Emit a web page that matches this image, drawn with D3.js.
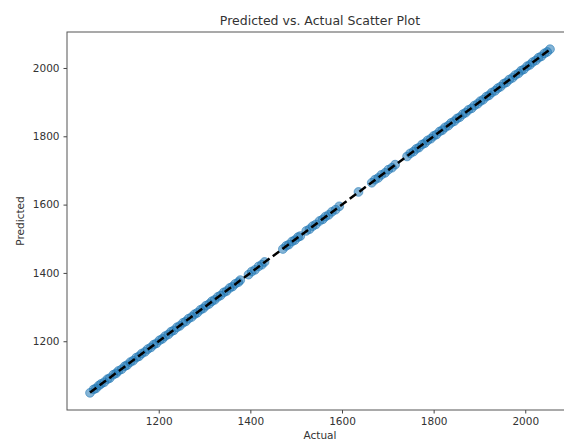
<!DOCTYPE html>
<html>
<head>
  <meta charset="utf-8">
  <script src="https://d3js.org/d3.v7.min.js"></script>
  <style>
    body { margin: 0; background: #fff; }
    svg text { font-family: "DejaVu Sans", sans-serif; fill: #333; }
  </style>
</head>
<body>
<script>
// actual values (x) and model predictions (y)
var actual = [
  1050, 1058, 1063, 1069, 1074, 1081, 1088, 1093, 1101, 1107, 1112, 1119, 1126, 1131, 1138, 1144,
  1151, 1157, 1163, 1170, 1176, 1183, 1189, 1195, 1202, 1208, 1214, 1221, 1227, 1233, 1240, 1246,
  1253, 1259, 1265, 1272, 1278, 1284, 1291, 1297, 1303, 1310, 1316, 1322, 1329, 1335, 1342, 1348,
  1355, 1361, 1367, 1374, 1378,
  1396, 1403, 1410, 1418, 1425, 1431,
  1471, 1478, 1484, 1491, 1497, 1504, 1509,
  1522, 1529, 1536, 1543, 1551, 1558, 1564, 1571, 1578, 1586, 1594,
  1636,
  1665, 1672, 1679, 1686, 1694, 1701, 1709, 1716,
  1742, 1749, 1756, 1762, 1768, 1775, 1781, 1787, 1794, 1800, 1806, 1813, 1819, 1825, 1832, 1838,
  1845, 1851, 1857, 1864, 1870, 1876, 1883, 1889, 1896, 1902, 1908, 1915, 1921, 1927, 1934, 1940,
  1946, 1953, 1959, 1965, 1972, 1978, 1985, 1991, 1997, 2004, 2010, 2016, 2023, 2029, 2035, 2042,
  2048, 2054
];
var predicted = [
  1049, 1059, 1062, 1070, 1075, 1080, 1089, 1092, 1102, 1106, 1113, 1118, 1127, 1130, 1139, 1143,
  1152, 1156, 1164, 1169, 1177, 1182, 1190, 1194, 1203, 1207, 1215, 1220, 1228, 1232, 1241, 1245,
  1254, 1258, 1266, 1271, 1279, 1283, 1292, 1296, 1304, 1309, 1317, 1321, 1330, 1334, 1343, 1347,
  1356, 1360, 1368, 1373, 1379,
  1395, 1404, 1409, 1419, 1424, 1432,
  1470, 1479, 1483, 1492, 1496, 1505, 1508,
  1523, 1528, 1537, 1542, 1552, 1557, 1565, 1570, 1579, 1585, 1595,
  1637,
  1664, 1673, 1678, 1687, 1693, 1702, 1708, 1717,
  1741, 1750, 1755, 1763, 1767, 1776, 1780, 1788, 1793, 1801, 1805, 1814, 1818, 1826, 1831, 1839,
  1844, 1852, 1856, 1865, 1869, 1877, 1882, 1890, 1895, 1903, 1907, 1916, 1920, 1928, 1933, 1941,
  1945, 1954, 1958, 1966, 1971, 1979, 1984, 1992, 1996, 2005, 2009, 2017, 2022, 2030, 2034, 2043,
  2047, 2055
];
var xTicks = [1200, 1400, 1600, 1800, 2000];
var yTicks = [1200, 1400, 1600, 1800, 2000];

var W = 564, H = 441;
var margin = { top: 32, right: -9, bottom: 31, left: 67 };
var width = W - margin.left - margin.right,
    height = H - margin.top - margin.bottom;

// matplotlib-style 5% padding around the data
function padded(vals) {
  var ext = d3.extent(vals), p = (ext[1] - ext[0]) * 0.05;
  return [ext[0] - p, ext[1] + p];
}

var x = d3.scaleLinear().domain(padded(actual)).range([0, width]);
var y = d3.scaleLinear().domain(padded(predicted)).range([height, 0]);

var svg = d3.select("body").append("svg")
    .attr("width", W)
    .attr("height", H);

var g = svg.append("g")
    .attr("transform", "translate(" + margin.left + "," + margin.top + ")");

// points
var pts = actual.map(function(a, i) { return { a: a, p: predicted[i] }; });
g.selectAll("circle")
    .data(pts)
  .enter().append("circle")
    .attr("cx", function(d) { return x(d.a); })
    .attr("cy", function(d) { return y(d.p); })
    .attr("r", 4.4)
    .attr("fill", "#1f77b4")
    .attr("fill-opacity", 0.55)
    .attr("stroke", "#1f77b4")
    .attr("stroke-opacity", 0.55)
    .attr("stroke-width", 1);

// ideal y = x line
var lo = d3.min(actual), hi = d3.max(actual);
g.append("line")
    .attr("x1", x(lo)).attr("y1", y(lo))
    .attr("x2", x(hi)).attr("y2", y(hi))
    .attr("stroke", "#000")
    .attr("stroke-width", 2.5)
    .attr("stroke-dasharray", "8,4");

// axes
var xAxis = g.append("g")
    .attr("transform", "translate(0," + height + ")")
    .call(d3.axisBottom(x).tickValues(xTicks).tickSize(3.5).tickPadding(4).tickFormat(d3.format("d")));
var yAxis = g.append("g")
    .call(d3.axisLeft(y).tickValues(yTicks).tickSize(3.5).tickPadding(4).tickFormat(d3.format("d")));

[xAxis, yAxis].forEach(function(ax) {
  ax.select(".domain").remove();
  ax.selectAll(".tick line").attr("stroke", "#444");
  ax.selectAll("text").attr("font-size", "10.5px").style("fill", "#333");
});

// frame
g.append("rect")
    .attr("width", width).attr("height", height)
    .attr("fill", "none")
    .attr("stroke", "#555")
    .attr("stroke-width", 1);

// title and labels
svg.append("text")
    .attr("x", margin.left + 253).attr("y", 25)
    .attr("text-anchor", "middle")
    .attr("font-size", "12.5px")
    .text("Predicted vs. Actual Scatter Plot");

svg.append("text")
    .attr("x", margin.left + 253).attr("y", 439)
    .attr("text-anchor", "middle")
    .attr("font-size", "10.5px")
    .text("Actual");

svg.append("text")
    .attr("transform", "translate(24," + (margin.top + height / 2) + ") rotate(-90)")
    .attr("text-anchor", "middle")
    .attr("font-size", "10.5px")
    .text("Predicted");
</script>
</body>
</html>
